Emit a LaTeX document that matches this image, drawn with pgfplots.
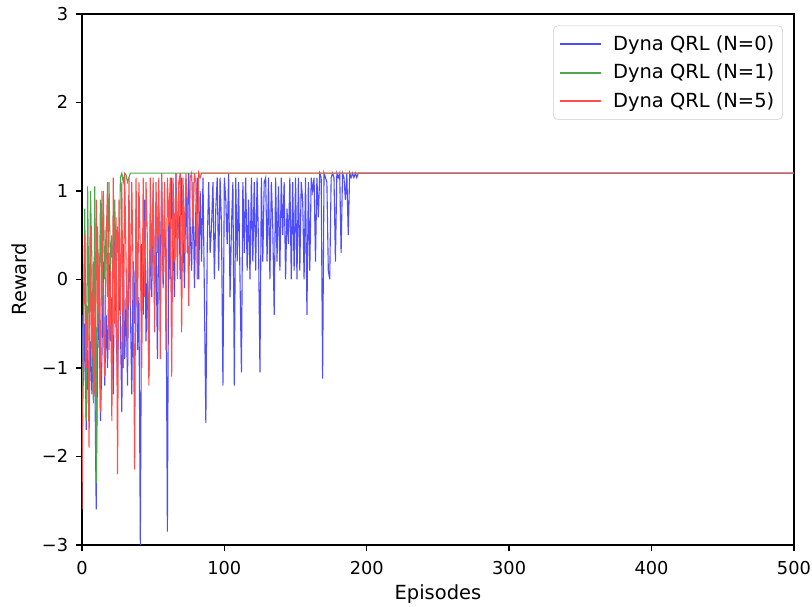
\documentclass[border=0pt]{standalone}
\usepackage{pgfplots}
\pgfplotsset{compat=1.18}
\usepackage{fontspec}
\setmainfont{DejaVu Sans}
\definecolor{mblue}{RGB}{77,77,255}
\definecolor{mgreen}{RGB}{77,166,77}
\definecolor{mred}{RGB}{255,77,77}
\begin{document}
\begin{tikzpicture}
\begin{axis}[
  scale only axis,
  width=512.6pt, height=382.3pt,
  xmin=0, xmax=500, ymin=-3, ymax=3,
  xtick={0,100,200,300,400,500},
  ytick={-3,-2,-1,0,1,2,3},
  yticklabels={−3,−2,−1,0,1,2,3},
  tick align=outside, tick pos=left,
  major tick length=4.4pt,
  every tick/.style={black, line width=1pt},
  axis line style={line width=1pt},
  /pgf/number format/assume math mode=true,
  tick label style={font=\fontsize{12.8}{15}\selectfont},
  xticklabel style={yshift=-4pt},
  yticklabel style={xshift=-2pt},
  label style={font=\fontsize{14}{16}\selectfont},
  xlabel={Episodes}, ylabel={Reward},
  xlabel style={yshift=-0.5pt},
  ylabel style={yshift=4pt},
  legend style={at={(1,1)}, anchor=north east, xshift=-8pt, yshift=-8.4pt,
    draw=black!20, rounded corners=3pt, font=\fontsize{14}{16}\selectfont,
    row sep=4.5pt, column sep=6pt, inner xsep=4pt, inner ysep=5pt},
  legend cell align=left,
  legend image code/.code={\draw[#1, line width=1.4pt] (0cm,0cm) -- (1.04cm,0cm);},
]
\addplot[draw=mblue, line width=0.8pt] coordinates {
(0,-0.4)(1,-1.2)(2,-0.5)(3,-1.7)(4,-0.8)(5,-1.5)(6,-0.7)(7,-1.3)(8,-0.6)(9,-1.0)
(10,-2.6)(11,-0.8)(12,-0.3)(13,-1.6)(14,-0.9)(15,0.2)(16,-1.2)(17,-0.4)(18,-1.0)(19,0.3)
(20,-0.7)(21,-0.2)(22,-1.3)(23,0.5)(24,-0.6)(25,-1.1)(26,0.1)(27,-0.5)(28,-1.5)(29,0.4)
(30,-0.9)(31,-0.2)(32,-1.2)(33,0.6)(34,-0.3)(35,-1.3)(36,0.2)(37,-0.5)(38,0.8)(39,-0.8)
(40,-0.2)(41,-3.0)(42,0.4)(43,-0.4)(44,0.9)(45,-0.7)(46,0.2)(47,-1.1)(48,0.6)(49,-0.2)
(50,1.0)(51,-0.3)(52,0.5)(53,-0.9)(54,0.8)(55,0.1)(56,1.1)(57,-0.1)(58,0.7)(59,0.2)
(60,-2.85)(61,0.9)(62,0.0)(63,1.15)(64,0.4)(65,-0.2)(66,1.2)(67,0.3)(68,1.0)(69,0.0)
(70,1.15)(71,0.5)(72,-0.1)(73,1.1)(74,0.3)(75,1.2)(76,0.6)(77,0.1)(78,1.1)(79,-0.1)
(80,0.8)(81,1.15)(82,0.0)(83,1.0)(84,0.2)(85,1.15)(86,-0.2)(87,-1.62)(88,0.4)(89,1.1)
(90,0.3)(91,0.6)(92,1.1)(93,0.0)(94,0.8)(95,1.15)(96,0.1)(97,1.15)(98,0.6)(99,-1.2)
(100,1.15)(101,0.9)(102,0.4)(103,1.2)(104,-0.2)(105,0.6)(106,1.1)(107,-1.2)(108,1.15)(109,0.2)
(110,1.1)(111,0.0)(112,-1.05)(113,1.1)(114,0.3)(115,1.15)(116,0.1)(117,0.9)(118,0.0)(119,1.15)
(120,0.2)(121,1.1)(122,0.1)(123,1.15)(124,0.4)(125,-1.05)(126,1.15)(127,0.2)(128,1.1)(129,1.15)
(130,0.2)(131,1.15)(132,0.0)(133,1.1)(134,0.6)(135,-0.4)(136,1.15)(137,0.2)(138,1.05)(139,0.1)
(140,1.15)(141,0.5)(142,1.1)(143,0.0)(144,0.8)(145,0.4)(146,1.15)(147,0.0)(148,1.1)(149,0.1)
(150,1.15)(151,0.0)(152,1.15)(153,0.1)(154,1.1)(155,0.9)(156,0.0)(157,1.15)(158,-0.4)(159,1.1)
(160,0.1)(161,1.15)(162,1.0)(163,1.15)(164,0.2)(165,1.15)(166,0.7)(167,1.2)(168,1.15)(169,-1.12)
(170,1.2)(171,1.15)(172,1.1)(173,0.1)(174,0.0)(175,1.15)(176,1.2)(177,1.15)(178,0.2)(179,1.2)
(180,1.15)(181,1.2)(182,0.3)(183,1.2)(184,1.15)(185,0.9)(186,1.2)(187,0.5)(188,1.2)(189,1.15)
(190,1.2)(191,1.15)(192,1.2)(193,1.15)(194,1.2)(195,1.2)(500,1.2)
};
\addlegendentry{Dyna QRL (N=0)}
\addplot[draw=mgreen, line width=0.8pt] coordinates {
(0,-1.9)(1,-0.4)(2,0.8)(3,-1.6)(4,1.05)(5,-0.7)(6,1.0)(7,0.2)(8,-1.4)(9,1.05)
(10,-2.3)(11,0.6)(12,-0.5)(13,0.9)(14,-0.3)(15,1.0)(16,0.0)(17,0.6)(18,-0.2)(19,1.1)
(20,0.1)(21,0.5)(22,0.0)(23,0.9)(24,0.1)(25,0.6)(26,0.05)(27,1.15)(28,1.2)(29,1.1)
(30,1.2)(31,1.18)(32,1.1)(33,1.15)(34,1.2)(500,1.2)
};
\addlegendentry{Dyna QRL (N=1)}
\addplot[draw=mred, line width=0.8pt] coordinates {
(0,-2.6)(1,-0.8)(2,0.5)(3,-1.0)(4,-0.3)(5,-1.9)(6,0.6)(7,-0.9)(8,0.2)(9,-1.3)
(10,0.9)(11,-0.6)(12,0.3)(13,-1.5)(14,1.0)(15,-0.4)(16,-1.1)(17,0.4)(18,1.1)(19,-0.8)
(20,0.1)(21,-1.6)(22,1.15)(23,-0.5)(24,0.7)(25,-2.2)(26,0.9)(27,-0.4)(28,1.1)(29,-1.0)
(30,1.2)(31,0.2)(32,-0.9)(33,1.15)(34,-0.3)(35,1.1)(36,0.0)(37,-2.15)(38,1.15)(39,-0.5)
(40,1.1)(41,0.3)(42,-1.0)(43,1.15)(44,-0.2)(45,1.1)(46,0.4)(47,-1.2)(48,1.15)(49,0.0)
(50,1.15)(51,-0.6)(52,1.1)(53,0.3)(54,1.15)(55,-0.9)(56,1.2)(57,0.0)(58,1.1)(59,-0.8)
(60,1.15)(61,0.6)(62,1.15)(63,-1.1)(64,1.15)(65,0.2)(66,1.2)(67,0.0)(68,1.1)(69,1.2)
(70,-0.6)(71,1.15)(72,0.3)(73,1.2)(74,0.9)(75,-0.3)(76,1.15)(77,1.2)(78,0.6)(79,1.2)
(80,1.1)(81,0.0)(82,1.2)(83,1.15)(84,1.2)(85,1.2)(500,1.2)
};
\addlegendentry{Dyna QRL (N=5)}
\end{axis}
\pgfresetboundingbox
\path (current axis.south west) ++(-59pt,-44.6pt) coordinate (bl);
\path (current axis.north east) ++(13pt,10pt) coordinate (tr);
\path[use as bounding box] (bl) rectangle (tr);
\end{tikzpicture}
\end{document}
